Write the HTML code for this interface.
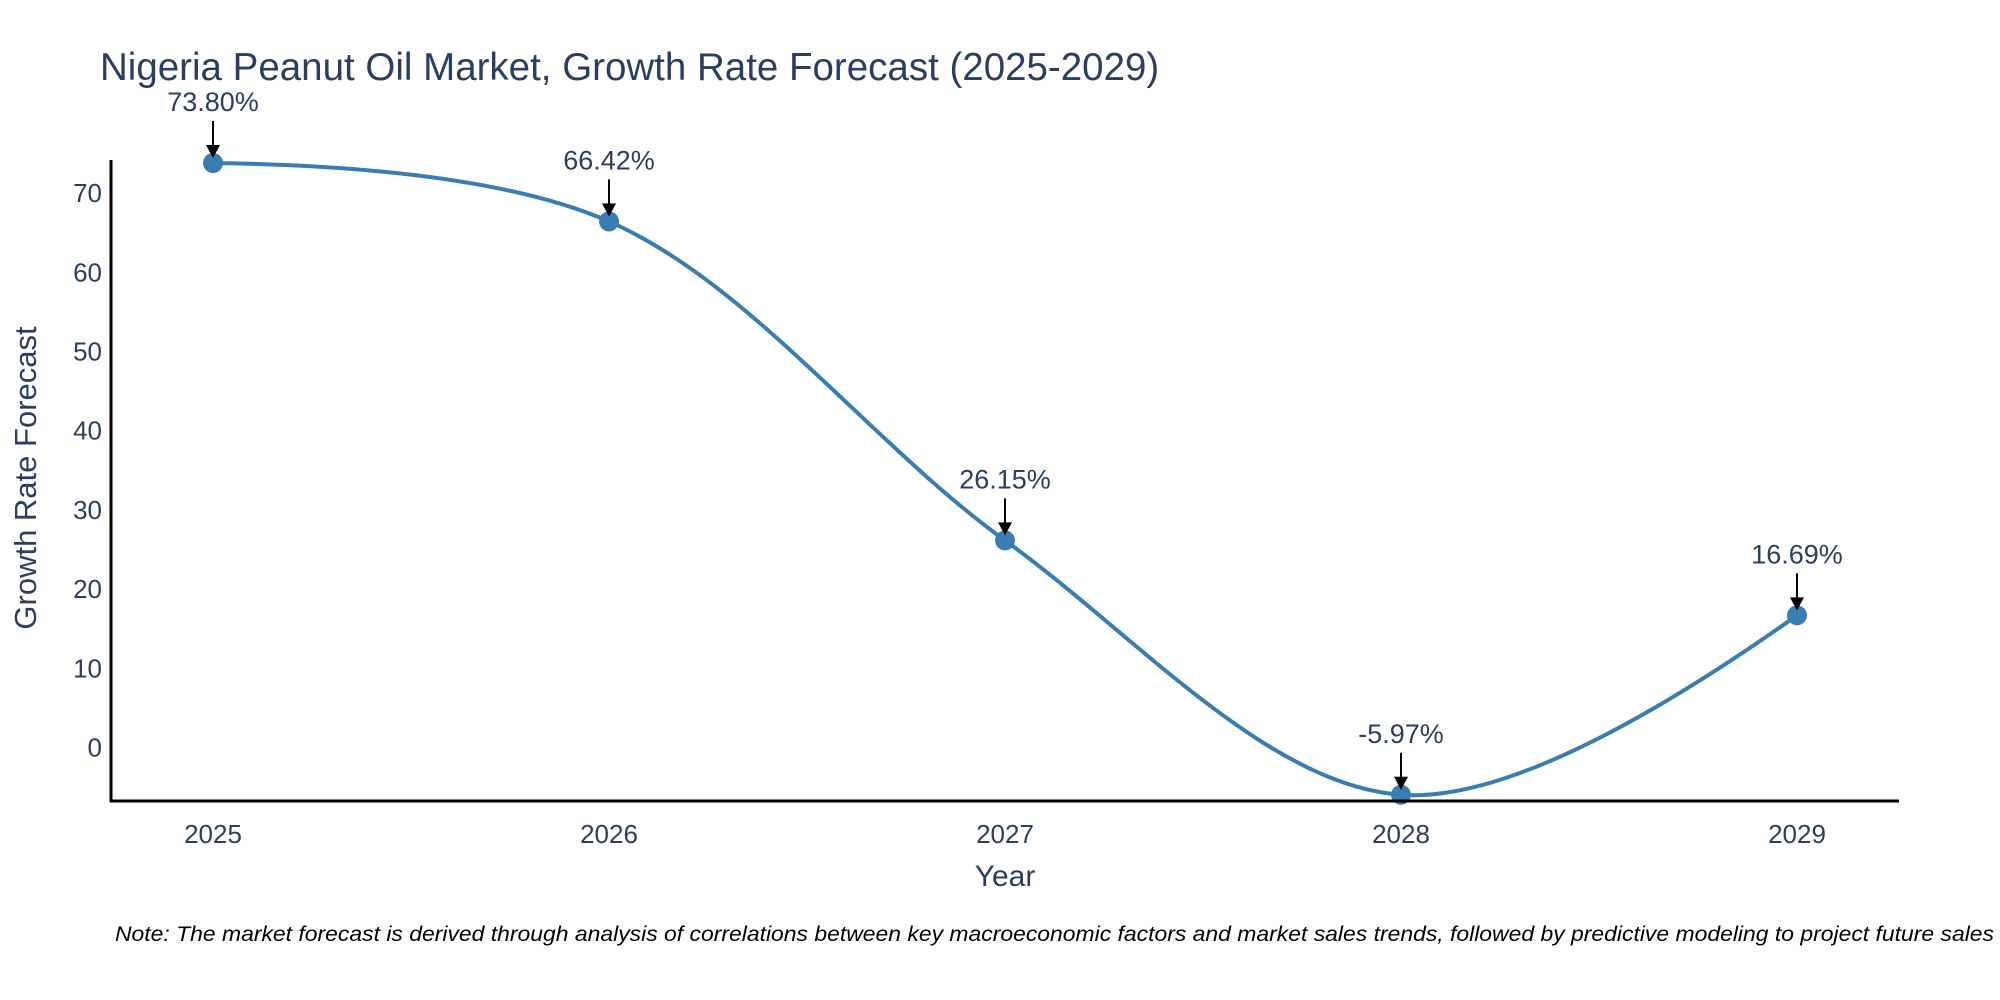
<!DOCTYPE html>
<html><head><meta charset="utf-8"><style>
html,body{margin:0;padding:0;background:#fff;}
svg{display:block;font-family:"Liberation Sans",sans-serif;}
</style></head><body>
<svg id="chart" width="2000" height="1000" viewBox="0 0 2000 1000">
<text x="100" y="80" font-size="38.5" fill="#2a3f5f">Nigeria Peanut Oil Market, Growth Rate Forecast (2025-2029)</text>
<g id="yticks"></g>
<g id="xticks"></g>
<path id="curve" fill="none" stroke="#3a7db0" stroke-width="4"/>
<g id="marks"></g>
<g id="annots"></g>
<line x1="111" y1="160" x2="111" y2="802" stroke="#000" stroke-width="3"/>
<line x1="110" y1="801" x2="1899" y2="801" stroke="#000" stroke-width="3"/>
<text transform="translate(36,478) rotate(-90)" text-anchor="middle" font-size="31" fill="#2a3f5f">Growth Rate Forecast</text>
<text x="1005" y="886" text-anchor="middle" font-size="30" fill="#2a3f5f">Year</text>
<text x="115" y="941" font-size="21" font-style="italic" fill="#000" textLength="1879" lengthAdjust="spacingAndGlyphs">Note: The market forecast is derived through analysis of correlations between key macroeconomic factors and market sales trends, followed by predictive modeling to project future sales</text>
</svg>
<script>
const years = ["2025","2026","2027","2028","2029"];
const growth = [73.80, 66.42, 26.15, -5.97, 16.69];
const labels = ["73.80%","66.42%","26.15%","-5.97%","16.69%"];
const yTickVals = [0,10,20,30,40,50,60,70];

const NS = "http://www.w3.org/2000/svg";
function xPos(i){ return 213 + i * 396; }
function yPos(v){ return 747.5 - v * 7.92; }
function mk(tag, attrs, parent){ const e=document.createElementNS(NS,tag); for(const k in attrs) e.setAttribute(k,attrs[k]); parent.appendChild(e); return e; }

const yt=document.getElementById('yticks');
yTickVals.forEach(v=>{
  const t=mk('text',{x:102,y:yPos(v)+9,'text-anchor':'end','font-size':26,fill:'#2a3f5f'},yt);
  
  
  t.textContent=v;
});
const xt=document.getElementById('xticks');
years.forEach((y,i)=>{
  const t=mk('text',{x:xPos(i),y:843,'text-anchor':'middle','font-size':26,fill:'#2a3f5f'},xt);
  
  
  t.textContent=y;
});

const pts=growth.map((v,i)=>[xPos(i),yPos(v)]);
function tangent(a,b,c){
  const dxa=a[0]-b[0],dya=a[1]-b[1],dxb=c[0]-b[0],dyb=c[1]-b[1];
  const d1=Math.pow(dxa*dxa+dya*dya,0.25),d2=Math.pow(dxb*dxb+dyb*dyb,0.25);
  const nx=(d2*d2*dxa-d1*d1*dxb),ny=(d2*d2*dya-d1*d1*dyb);
  const den1=3*d2*(d1+d2),den2=3*d1*(d1+d2);
  return [[b[0]+nx/den1,b[1]+ny/den1],[b[0]-nx/den2,b[1]-ny/den2]];
}
const tg=[];
for(let i=1;i<pts.length-1;i++) tg.push(tangent(pts[i-1],pts[i],pts[i+1]));
let d='M'+pts[0]+'Q'+tg[0][0]+' '+pts[1];
for(let i=2;i<pts.length-1;i++) d+='C'+tg[i-2][1]+' '+tg[i-1][0]+' '+pts[i];
d+='Q'+tg[tg.length-1][1]+' '+pts[pts.length-1];
document.getElementById('curve').setAttribute('d',d);

const mg=document.getElementById('marks'), ag=document.getElementById('annots');
pts.forEach((p,i)=>{
  const c=mk('circle',{cx:p[0],cy:p[1],r:10,fill:'#3a7db0'},mg);
  
  
  const l=mk('line',{x1:p[0],y1:p[1]-42,x2:p[0],y2:p[1]-16,stroke:'#000','stroke-width':2},ag);
  
  
  const h=mk('polygon',{points:`${p[0]-7},${p[1]-18} ${p[0]+7},${p[1]-18} ${p[0]},${p[1]-5}`,fill:'#000'},ag);
  
  
  const t=mk('text',{x:p[0],y:p[1]-52,'text-anchor':'middle','font-size':27,fill:'#2a3f5f'},ag);
  
  
  t.textContent=labels[i];
});
</script>
</body></html>
